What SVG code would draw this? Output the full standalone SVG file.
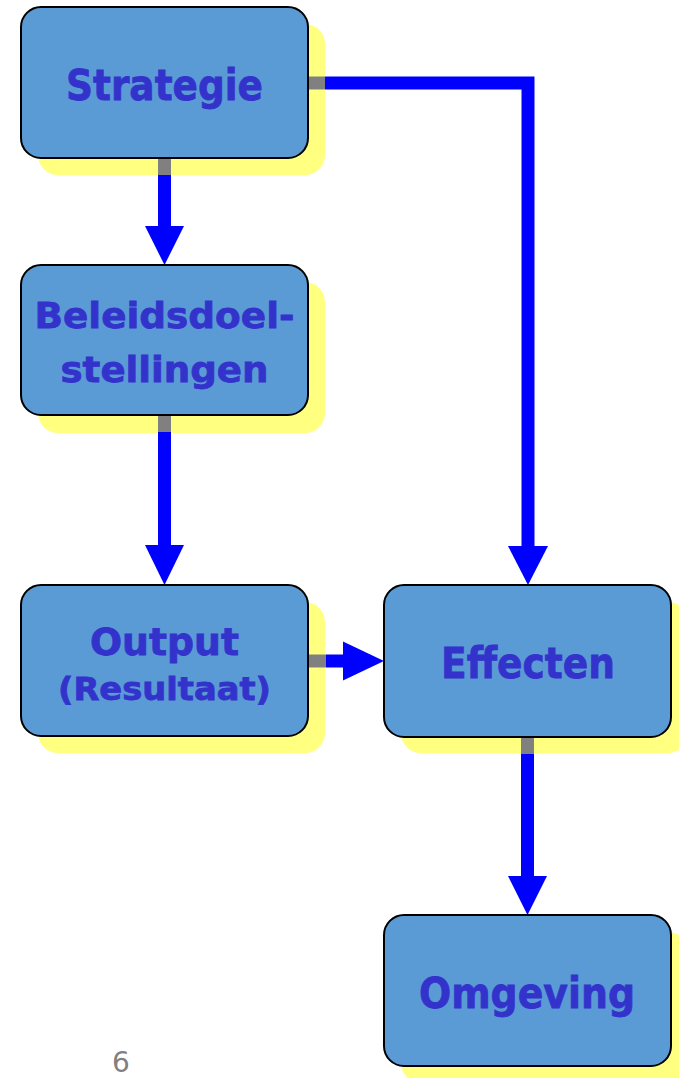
<svg xmlns="http://www.w3.org/2000/svg" width="679" height="1078" viewBox="0 0 679 1078">
<style>
.sh{fill:#FFFF80}
.bx{fill:#5B9BD5;stroke:#000;stroke-width:2}
.t{font-family:"DejaVu Sans","Verdana",sans-serif;font-weight:bold;fill:#3333CC;stroke:#3333CC;stroke-width:0.8;text-anchor:middle}
.stub{stroke:#808080;stroke-width:13;fill:none}
.ln{stroke:#0000FF;stroke-width:13;fill:none;stroke-linejoin:miter}
.ah{fill:#0000FF}
</style>
<rect width="679" height="1078" fill="#fff"/>
<g id="shadows">
<rect class="sh" x="38" y="24" width="287" height="151" rx="20"/>
<rect class="sh" x="38" y="282" width="287" height="151" rx="20"/>
<rect class="sh" x="38" y="602" width="287" height="151" rx="20"/>
<rect class="sh" x="401" y="602" width="287" height="151" rx="20"/>
<rect class="sh" x="401" y="932" width="287" height="151" rx="20"/>
</g>
<g id="connectors">
<line class="stub" x1="308" y1="83" x2="325" y2="83"/>
<polyline class="ln" points="325,83 528,83 528,547"/>
<polygon class="ah" points="508,546 548,546 528,585"/>
<line class="stub" x1="164.5" y1="158" x2="164.5" y2="175"/>
<line class="ln" x1="164.5" y1="175" x2="164.5" y2="227"/>
<polygon class="ah" points="145,226 184,226 164.5,265"/>
<line class="stub" x1="164.5" y1="415" x2="164.5" y2="432"/>
<line class="ln" x1="164.5" y1="432" x2="164.5" y2="546"/>
<polygon class="ah" points="145,545 184,545 164.5,585"/>
<line class="stub" x1="308" y1="661" x2="326" y2="661"/>
<line class="ln" x1="326" y1="661" x2="344" y2="661"/>
<polygon class="ah" points="343,641.5 343,680.5 384,661"/>
<line class="stub" x1="527.5" y1="737" x2="527.5" y2="754"/>
<line class="ln" x1="527.5" y1="754" x2="527.5" y2="877"/>
<polygon class="ah" points="508,876 547,876 527.5,915"/>
</g>
<g id="strategie">
<rect class="bx" x="21" y="7" width="287" height="151" rx="20"/>
<text class="t" x="164.5" y="100" font-size="43" textLength="197" lengthAdjust="spacingAndGlyphs">Strategie</text>
</g>
<g id="beleidsdoelstellingen">
<rect class="bx" x="21" y="265" width="287" height="150" rx="20"/>
<text class="t" x="164.5" y="328" font-size="36" textLength="260" lengthAdjust="spacingAndGlyphs">Beleidsdoel-</text>
<text class="t" x="164.5" y="382" font-size="36" textLength="208" lengthAdjust="spacingAndGlyphs">stellingen</text>
</g>
<g id="output">
<rect class="bx" x="21" y="585" width="287" height="151" rx="20"/>
<text class="t" x="164.5" y="655" font-size="38" textLength="149" lengthAdjust="spacingAndGlyphs">Output</text>
<text class="t" x="164.5" y="700" font-size="32" textLength="213" lengthAdjust="spacingAndGlyphs">(Resultaat)</text>
</g>
<g id="effecten">
<rect class="bx" x="384" y="585" width="287" height="152" rx="20"/>
<text class="t" x="528" y="678" font-size="43" textLength="174" lengthAdjust="spacingAndGlyphs">Effecten</text>
</g>
<g id="omgeving">
<rect class="bx" x="384" y="915" width="287" height="151" rx="20"/>
<text class="t" x="527" y="1008" font-size="43" textLength="216" lengthAdjust="spacingAndGlyphs">Omgeving</text>
</g>
<text x="121" y="1072" font-family="'DejaVu Sans',sans-serif" font-size="28" fill="#808080" text-anchor="middle">6</text>
</svg>
